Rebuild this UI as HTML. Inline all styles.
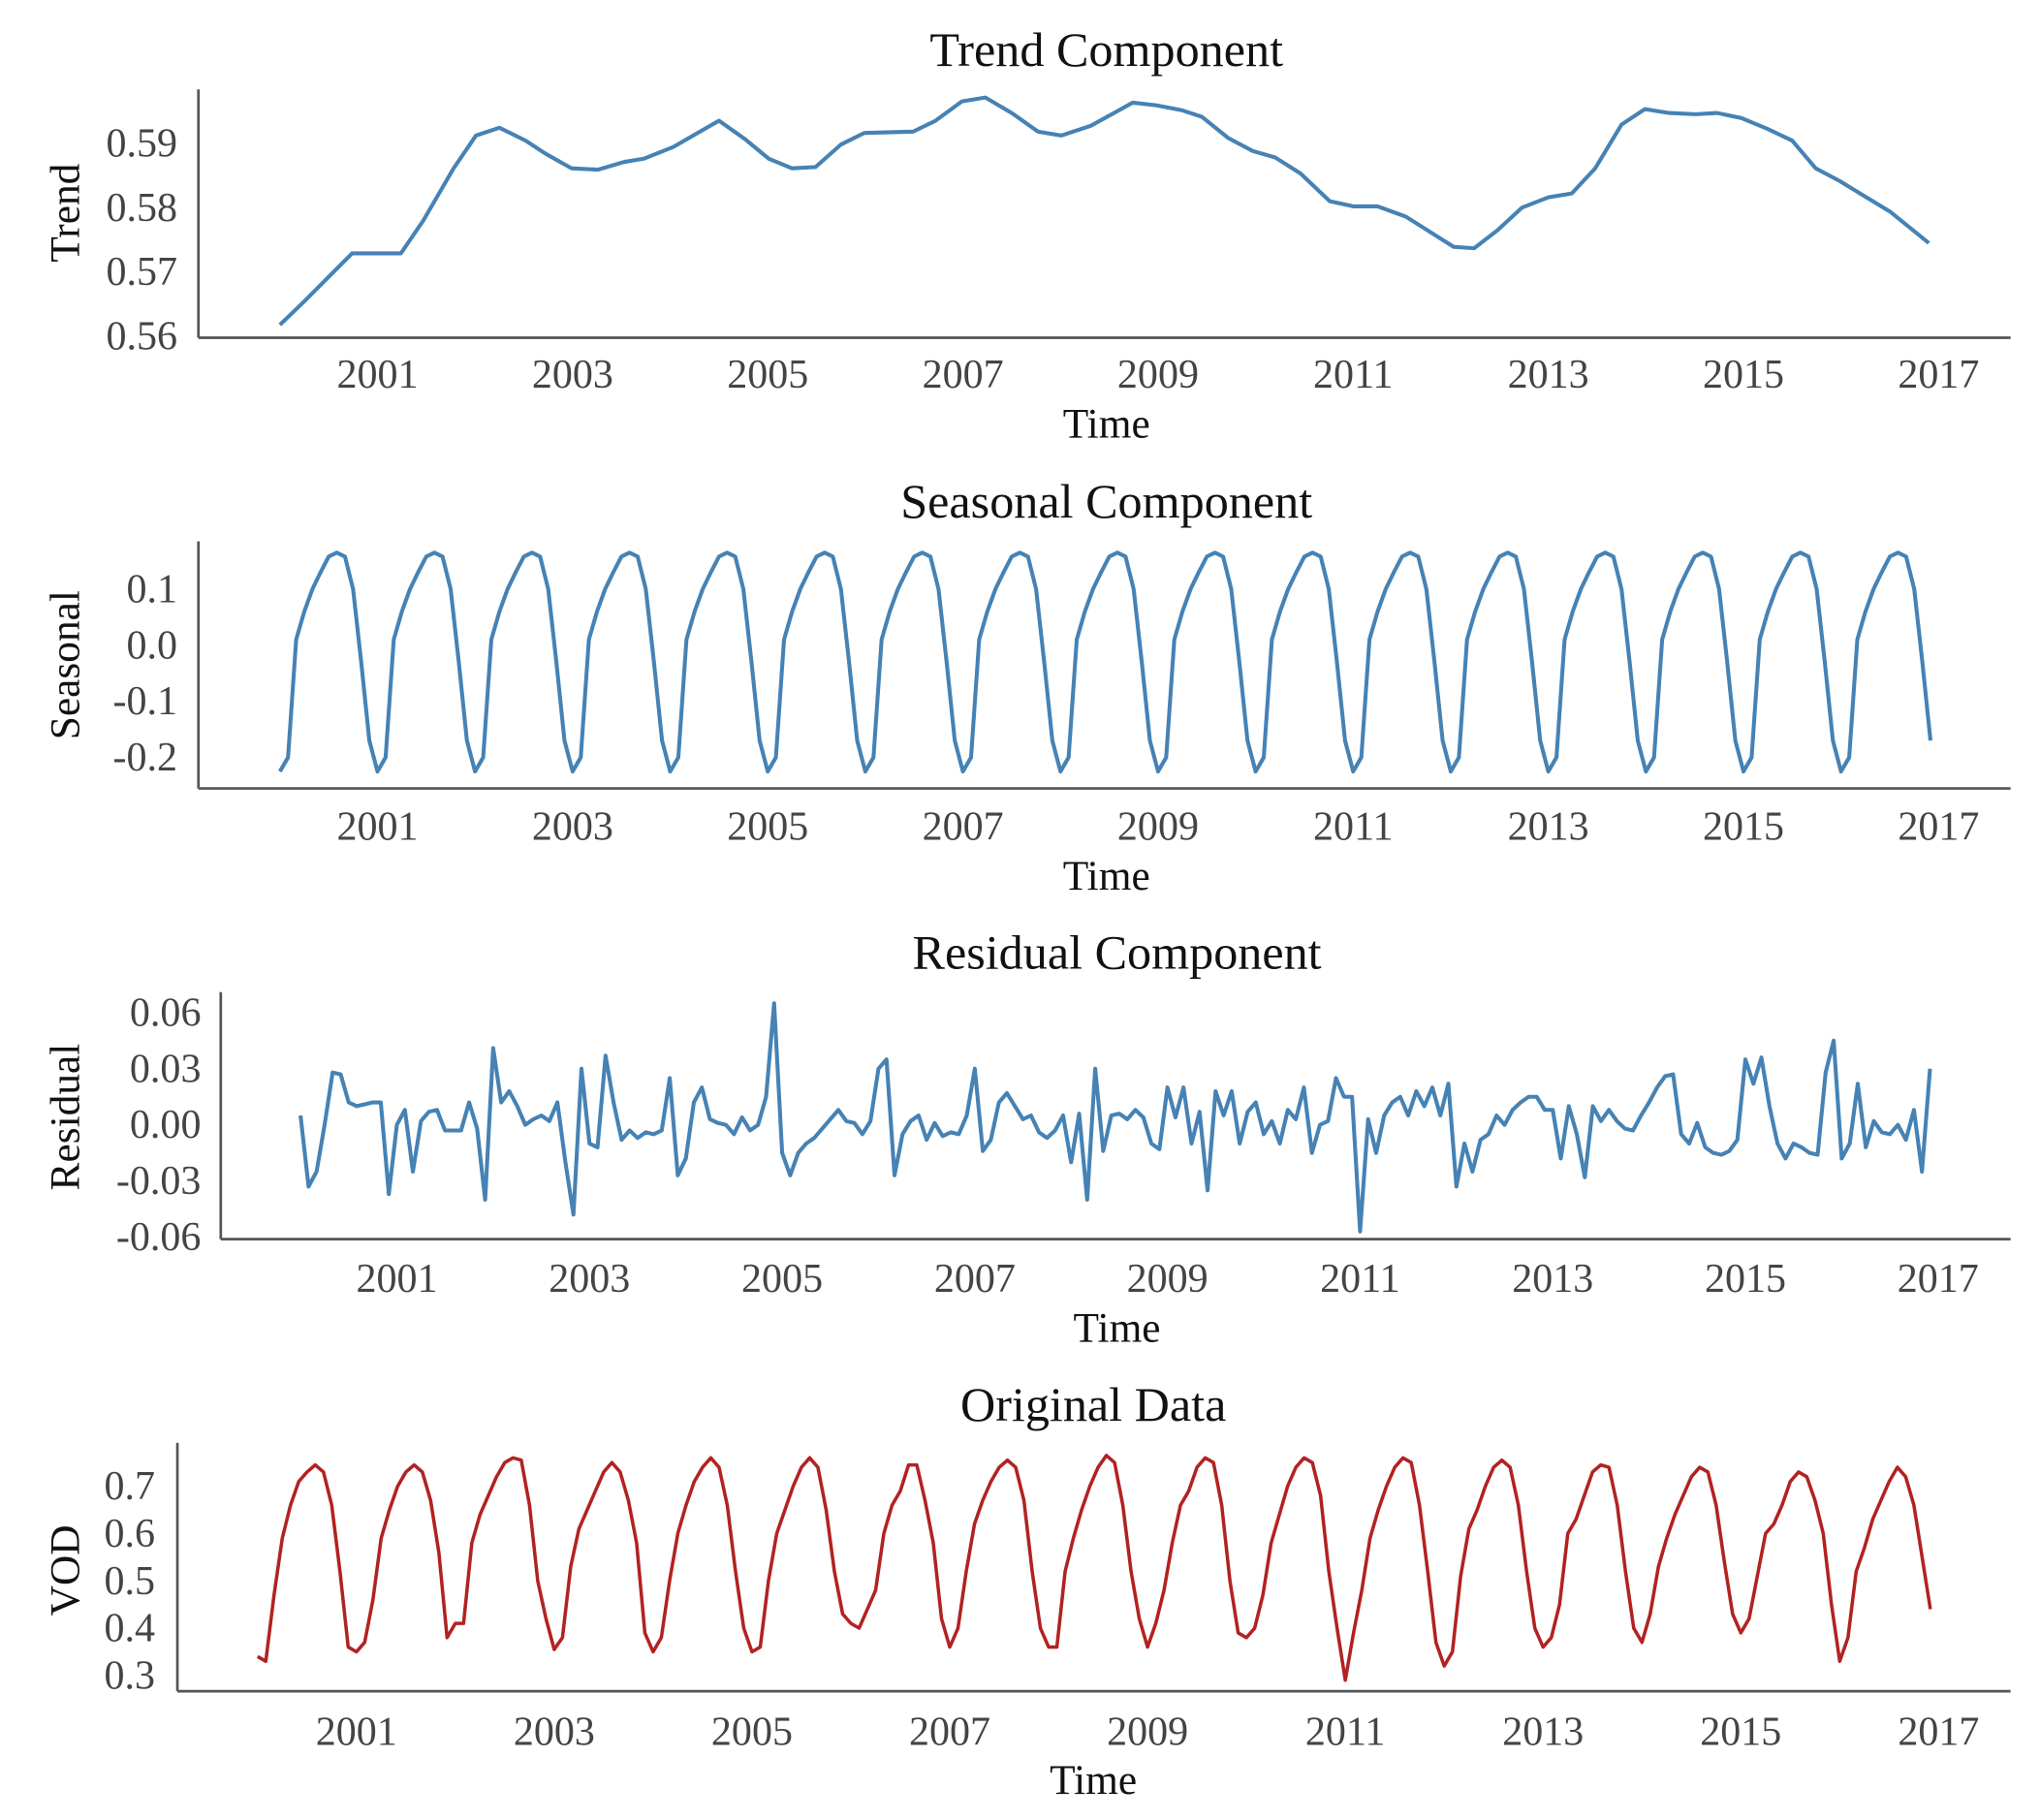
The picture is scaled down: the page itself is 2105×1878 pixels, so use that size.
<!DOCTYPE html>
<html><head><meta charset="utf-8"><style>
html,body{margin:0;padding:0;background:#fff;}
svg{display:block;}
text{font-family:"Liberation Serif",serif;}
</style></head><body>
<svg id="chart" width="2105" height="1878" viewBox="0 0 1552.4 1385" preserveAspectRatio="none" xmlns="http://www.w3.org/2000/svg"></svg>
<script>
// ---- data ----
const trendYears = [2000.00,2000.24,2000.74,2001.24,2001.47,2001.78,2002.01,2002.25,2002.52,2002.72,2002.99,2003.26,2003.53,2003.73,2004.03,2004.50,2004.77,2005.01,2005.25,2005.49,2005.75,2005.99,2006.49,2006.72,2006.99,2007.23,2007.50,2007.77,2008.01,2008.31,2008.74,2008.98,2009.25,2009.45,2009.72,2009.97,2010.20,2010.46,2010.76,2011.00,2011.25,2011.54,2012.03,2012.24,2012.48,2012.73,2013.00,2013.24,2013.48,2013.75,2013.99,2014.24,2014.51,2014.73,2014.98,2015.25,2015.50,2015.74,2015.99,2016.26,2016.50,2016.90];
const trendValues = [0.5618,0.5653,0.5729,0.5729,0.5780,0.5861,0.5912,0.5924,0.5904,0.5884,0.5861,0.5859,0.5871,0.5876,0.5894,0.5935,0.5906,0.5876,0.5861,0.5863,0.5898,0.5916,0.5918,0.5935,0.5965,0.5971,0.5947,0.5918,0.5912,0.5927,0.5963,0.5959,0.5951,0.5941,0.5908,0.5888,0.5878,0.5853,0.5810,0.5802,0.5802,0.5786,0.5739,0.5737,0.5765,0.5800,0.5816,0.5822,0.5861,0.5929,0.5953,0.5947,0.5945,0.5947,0.5939,0.5922,0.5904,0.5861,0.5841,0.5816,0.5794,0.5745];
const seasonalMonthly = [-0.225,-0.200,0.010,0.060,0.100,0.130,0.158,0.165,0.158,0.100,-0.030,-0.170];
const residualValues = [
0.005,-0.033,-0.025,0.000,0.028,0.027,0.012,0.010,0.011,0.012,0.012,-0.037,
0.000,0.008,-0.025,0.002,0.007,0.008,-0.003,-0.003,-0.003,0.012,-0.002,-0.040,
0.041,0.012,0.018,0.010,0.000,0.003,0.005,0.002,0.012,-0.020,-0.048,0.030,
-0.010,-0.012,0.037,0.012,-0.008,-0.003,-0.007,-0.004,-0.005,-0.003,0.025,-0.027,
-0.018,0.012,0.020,0.003,0.001,0.000,-0.005,0.004,-0.003,0.000,0.015,0.065,
-0.015,-0.027,-0.015,-0.010,-0.007,-0.002,0.003,0.008,0.002,0.001,-0.005,0.002,
0.030,0.035,-0.027,-0.005,0.002,0.005,-0.008,0.001,-0.006,-0.004,-0.005,0.005,
0.030,-0.014,-0.008,0.012,0.017,0.010,0.003,0.005,-0.004,-0.007,-0.003,0.005,
-0.020,0.006,-0.040,0.030,-0.014,0.005,0.006,0.003,0.008,0.004,-0.010,-0.013,
0.020,0.004,0.020,-0.010,0.007,-0.035,0.018,0.005,0.018,-0.010,0.007,0.012,
-0.005,0.002,-0.010,0.008,0.003,0.020,-0.015,0.000,0.002,0.025,0.015,0.015,
-0.057,0.003,-0.015,0.005,0.012,0.015,0.005,0.018,0.010,0.020,0.005,0.022,
-0.033,-0.010,-0.025,-0.008,-0.005,0.005,0.000,0.008,0.012,0.015,0.015,0.008,
0.008,-0.018,0.010,-0.005,-0.028,0.010,0.002,0.008,0.002,-0.002,-0.003,0.005,
0.012,0.020,0.026,0.027,-0.005,-0.010,0.001,-0.012,-0.015,-0.016,-0.014,-0.008,
0.035,0.022,0.036,0.010,-0.010,-0.018,-0.010,-0.012,-0.015,-0.016,0.028,0.045,
-0.018,-0.010,0.022,-0.012,0.002,-0.004,-0.005,0.000,-0.008,0.008,-0.025,0.030];
const originalValues = [
0.34,0.33,0.47,0.59,0.66,0.71,0.73,0.745,0.73,0.66,0.52,0.36,
0.35,0.37,0.46,0.59,0.65,0.70,0.73,0.745,0.73,0.67,0.56,0.38,
0.41,0.41,0.58,0.64,0.68,0.72,0.75,0.76,0.755,0.66,0.50,0.42,
0.355,0.38,0.53,0.61,0.65,0.69,0.73,0.75,0.73,0.67,0.58,0.39,
0.35,0.38,0.50,0.60,0.66,0.71,0.74,0.76,0.74,0.66,0.52,0.40,
0.35,0.36,0.50,0.60,0.65,0.70,0.74,0.76,0.74,0.65,0.52,0.43,
0.41,0.40,0.44,0.48,0.60,0.66,0.69,0.745,0.745,0.67,0.58,0.42,
0.36,0.40,0.52,0.62,0.67,0.71,0.74,0.755,0.74,0.67,0.52,0.40,
0.36,0.36,0.52,0.59,0.65,0.70,0.74,0.765,0.75,0.66,0.52,0.42,
0.36,0.41,0.48,0.58,0.66,0.69,0.74,0.76,0.75,0.66,0.50,0.39,
0.38,0.40,0.47,0.58,0.64,0.70,0.74,0.76,0.75,0.68,0.52,0.40,
0.29,0.39,0.48,0.59,0.65,0.70,0.74,0.76,0.75,0.66,0.52,0.37,
0.32,0.35,0.51,0.61,0.65,0.70,0.74,0.755,0.74,0.66,0.52,0.40,
0.36,0.38,0.45,0.60,0.63,0.68,0.73,0.745,0.74,0.66,0.52,0.40,
0.37,0.43,0.53,0.59,0.64,0.68,0.72,0.74,0.73,0.66,0.54,0.43,
0.39,0.42,0.51,0.60,0.62,0.66,0.71,0.73,0.72,0.67,0.60,0.45,
0.33,0.38,0.52,0.57,0.63,0.67,0.71,0.74,0.72,0.66,0.55,0.44];
const xTickYears = [2001,2003,2005,2007,2009,2011,2013,2015,2017];
const trendTicks = [0.56,0.57,0.58,0.59];
const seasonalTicks = [-0.2,-0.1,0.0,0.1];
const residualTicks = [-0.06,-0.03,0.00,0.03,0.06];
const originalTicks = [0.3,0.4,0.5,0.6,0.7];
const startYear = 2000;

const NS = "http://www.w3.org/2000/svg";
const svg = document.getElementById('chart');
function mk(tag, attrs, parent) {
  const e = document.createElementNS(NS, tag);
  for (const k in attrs) e.setAttribute(k, attrs[k]);
  (parent || svg).appendChild(e);
  return e;
}

function panel(cfg) {
  const g = mk('g', {});
  
  
  const xs = yr => cfg.x0 + (yr - startYear) * cfg.k;
  const ys = v => cfg.yRef - (v - cfg.vRef) * cfg.ppu;
  // title
  const t = mk('text', {x: cfg.cx, y: cfg.titleY, 'text-anchor': 'middle', 'font-size': 37, fill: '#111'}, g);
  t.textContent = cfg.title;
  
  
  // axes
  const ya = mk('line', {x1: cfg.left, y1: cfg.top, x2: cfg.left, y2: cfg.bottom, stroke: '#555', 'stroke-width': 2}, g);
  
  
  const xa = mk('line', {x1: cfg.left, y1: cfg.bottom, x2: 1530, y2: cfg.bottom, stroke: '#555', 'stroke-width': 2}, g);
  
  
  // y ticks
  cfg.yTicks.forEach(v => {
    const l = mk('text', {x: cfg.labelX, y: ys(v) + 10, 'text-anchor': 'end', 'font-size': 31, fill: '#444'}, g);
    l.textContent = v.toFixed(cfg.dec);
    
    
  });
  // x ticks
  xTickYears.forEach(yr => {
    const l = mk('text', {x: xs(yr), y: cfg.xLabelY, 'text-anchor': 'middle', 'font-size': 31, fill: '#444'}, g);
    l.textContent = String(yr);
    
    
  });
  const xt = mk('text', {x: cfg.cx, y: cfg.timeY, 'text-anchor': 'middle', 'font-size': 32, fill: '#111'}, g);
  xt.textContent = 'Time';
  
  
  const yt = mk('text', {x: 0, y: 0, 'text-anchor': 'middle', 'font-size': 32, fill: '#111', transform: 'translate(60,' + cfg.ylabelY + ') rotate(-90)'}, g);
  yt.textContent = cfg.ylabel;
  
  
  // line
  const pts = cfg.years.map((yr, i) => xs(yr).toFixed(2) + ',' + ys(cfg.values[i]).toFixed(2)).join(' ');
  const pl = mk('polyline', {points: pts, fill: 'none', stroke: cfg.color, 'stroke-width': cfg.sw, 'stroke-linejoin': 'round'}, g);
  
  
}

const monthYears = n => Array.from({length: n}, (_, i) => startYear + i / 12);
const seasonalValues = [];
for (let i = 0; i < 204; i++) seasonalValues.push(seasonalMonthly[i % 12]);

panel({name: 'trend', title: 'Trend Component', ylabel: 'Trend', cx: 842, titleY: 50, left: 151, top: 68, bottom: 257,
  x0: 213, k: 74.25, yRef: 256, vRef: 0.56, ppu: 4900, yTicks: trendTicks, dec: 2, labelX: 135,
  xLabelY: 295, timeY: 333, ylabelY: 162, years: trendYears, values: trendValues, color: '#4682b4', sw: 3});
panel({name: 'seasonal', title: 'Seasonal Component', ylabel: 'Seasonal', cx: 842, titleY: 394, left: 151, top: 412, bottom: 600,
  x0: 213, k: 74.25, yRef: 491, vRef: 0, ppu: 427, yTicks: seasonalTicks, dec: 1, labelX: 135,
  xLabelY: 639, timeY: 677, ylabelY: 506, years: monthYears(204), values: seasonalValues, color: '#4682b4', sw: 3});
panel({name: 'residual', title: 'Residual Component', ylabel: 'Residual', cx: 850, titleY: 737, left: 168, top: 755, bottom: 943,
  x0: 228.7, k: 73.3, yRef: 856, vRef: 0, ppu: 1423, yTicks: residualTicks, dec: 2, labelX: 153,
  xLabelY: 983, timeY: 1021, ylabelY: 850, years: monthYears(residualValues.length), values: residualValues, color: '#4682b4', sw: 3});
panel({name: 'original', title: 'Original Data', ylabel: 'VOD', cx: 832, titleY: 1081, left: 135, top: 1098, bottom: 1287,
  x0: 196, k: 75.25, yRef: 1275, vRef: 0.3, ppu: 360, yTicks: originalTicks, dec: 1, labelX: 118,
  xLabelY: 1328, timeY: 1365, ylabelY: 1195, years: monthYears(originalValues.length), values: originalValues, color: '#b22222', sw: 2.6});
</script>
</body></html>
